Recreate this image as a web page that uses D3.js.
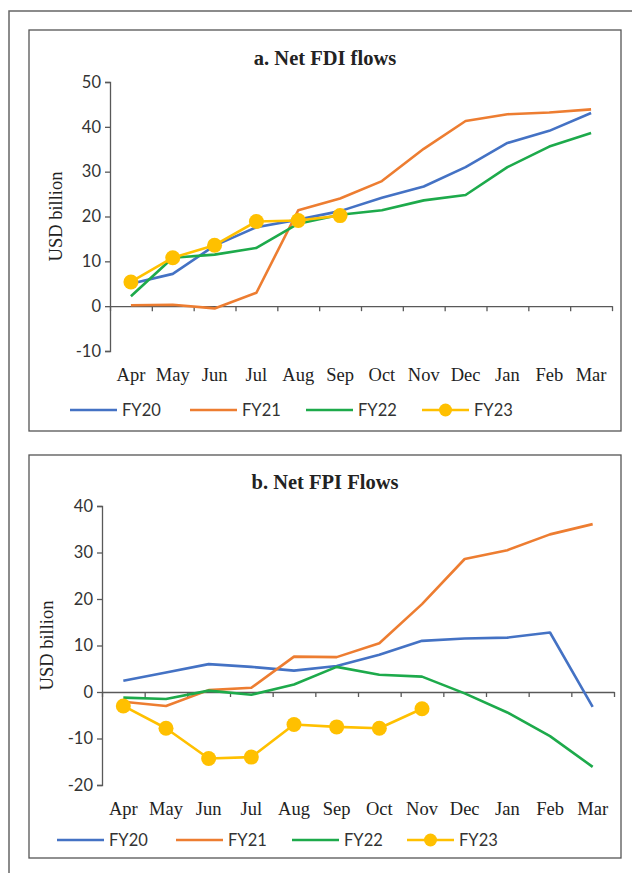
<!DOCTYPE html>
<html>
<head>
<meta charset="utf-8">
<script src="https://cdn.jsdelivr.net/npm/d3@7"></script>
<style>
  body { margin: 0; background: #fff; }
</style>
</head>
<body>
<div id="chart"></div>
<script>
var months = ["Apr", "May", "Jun", "Jul", "Aug", "Sep", "Oct", "Nov", "Dec", "Jan", "Feb", "Mar"]
var seriesNames = ["FY20", "FY21", "FY22", "FY23"]
var colors = ["#4472C4", "#ED7D31", "#1DAA4B", "#FFC000"]

// a. Net FDI flows (USD billion)
var fdiFY20 = [5.0, 7.2, 13.5, 17.6, 19.3, 21.2, 24.2, 26.7, 31.0, 36.4, 39.1, 43.1]
var fdiFY21 = [0.2, 0.3, -0.5, 3.0, 21.4, 24.0, 27.9, 35.1, 41.3, 42.8, 43.2, 43.9]
var fdiFY22 = [2.2, 10.8, 11.5, 13.0, 18.4, 20.4, 21.4, 23.6, 24.8, 31.0, 35.6, 38.6]
var fdiFY23 = [5.4, 10.8, 13.6, 18.9, 19.1, 20.2]
var fdiTicks = [-10, 0, 10, 20, 30, 40, 50]

// b. Net FPI flows (USD billion)
var fpiFY20 = [2.4, 4.2, 6.0, 5.4, 4.6, 5.6, 8.0, 11.0, 11.5, 11.7, 12.8, -3.2]
var fpiFY21 = [-2.1, -3.0, 0.4, 0.9, 7.6, 7.5, 10.5, 18.9, 28.6, 30.5, 33.9, 36.1]
var fpiFY22 = [-1.2, -1.5, 0.3, -0.6, 1.6, 5.4, 3.7, 3.3, -0.3, -4.4, -9.5, -16.1]
var fpiFY23 = [-3.0, -7.8, -14.3, -14.0, -7.0, -7.5, -7.8, -3.6]
var fpiTicks = [-20, -10, 0, 10, 20, 30, 40]

var W = 632, H = 873
var serif = "'Liberation Serif', 'DejaVu Serif', serif"
var sans = "Lato, 'Noto Sans', sans-serif"
var axisColor = "#595959"

var svg = d3.select("#chart").append("svg")
    .attr("width", W)
    .attr("height", H)

// outer page frame (only left and top edges visible)
svg.append("path")
    .attr("d", `M9,${H} V11 H${W}`)
    .attr("fill", "none")
    .attr("stroke", "#666")
    .attr("stroke-width", 1.5)

function panel(cfg) {
    var g = svg.append("g")

    g.append("rect")
        .attr("x", cfg.box[0]).attr("y", cfg.box[1])
        .attr("width", cfg.box[2]).attr("height", cfg.box[3])
        .attr("fill", "#fff")
        .attr("stroke", "#555")
        .attr("stroke-width", 1.3)

    g.append("text")
        .attr("x", cfg.box[0] + cfg.box[2] / 2)
        .attr("y", cfg.titleY)
        .attr("text-anchor", "middle")
        .style("font-family", serif)
        .style("font-weight", "bold")
        .style("font-size", "20.5px")
        .style("fill", "#222")
        .text(cfg.title)

    var x = d3.scaleBand()
        .domain(months)
        .range([cfg.left, cfg.right])

    var xEdges = d3.scaleLinear()
        .domain([0, months.length])
        .range([cfg.left, cfg.right])

    var y = d3.scaleLinear()
        .domain(d3.extent(cfg.ticks))
        .range([cfg.bottom, cfg.top])

    // y axis
    var yAxis = g.append("g")
        .attr("transform", `translate(${cfg.left},0)`)
        .call(d3.axisLeft(y).tickValues(cfg.ticks).tickFormat(d => String(d))
            .tickSize(5).tickSizeOuter(5).tickPadding(4))
    yAxis.select(".domain").attr("stroke", axisColor).attr("stroke-width", 1.3)
    yAxis.selectAll(".tick line").attr("stroke", axisColor).attr("stroke-width", 1.3)
    yAxis.selectAll(".tick text")
        .style("font-family", sans)
        .style("font-size", "16.5px")
        .style("fill", "#333")

    // x axis at zero, ticks between categories
    var xAxis = g.append("g")
        .attr("transform", `translate(0,${y(0)})`)
        .call(d3.axisBottom(xEdges).tickValues(d3.range(months.length + 1)).tickFormat("").tickSize(5).tickSizeOuter(0))
    xAxis.select(".domain").attr("stroke", axisColor).attr("stroke-width", 1.3)
    xAxis.selectAll(".tick line").attr("stroke", axisColor).attr("stroke-width", 1.3)

    // month labels below plot
    g.selectAll(".mlab")
        .data(months)
        .enter()
        .append("text")
        .attr("x", d => x(d) + x.bandwidth() / 2)
        .attr("y", cfg.labelY)
        .attr("text-anchor", "middle")
        .style("font-family", serif)
        .style("font-size", "18.5px")
        .style("fill", "#222")
        .text(d => d)

    g.append("text")
        .attr("transform", `translate(${cfg.yTitleX},${(cfg.top + cfg.bottom) / 2}) rotate(-90)`)
        .attr("text-anchor", "middle")
        .style("font-family", serif)
        .style("font-size", "18.5px")
        .style("fill", "#222")
        .text("USD billion")

    var line = d3.line()
        .x((d, i) => x(months[i]) + x.bandwidth() / 2)
        .y(d => y(d))

    cfg.series.forEach((vals, s) => {
        g.append("path")
            .datum(vals)
            .attr("d", line)
            .attr("fill", "none")
            .attr("stroke", colors[s])
            .attr("stroke-width", 2.6)
            .attr("stroke-linejoin", "round")
        if (s === 3) {
            g.selectAll(".dot")
                .data(vals)
                .enter()
                .append("circle")
                .attr("cx", (d, i) => x(months[i]) + x.bandwidth() / 2)
                .attr("cy", d => y(d))
                .attr("r", 7.5)
                .attr("fill", colors[s])
        }
    })

    // legend
    var leg = g.selectAll(".leg")
        .data(seriesNames)
        .enter()
        .append("g")
        .attr("transform", (d, i) => `translate(${cfg.legendX[i]},${cfg.legendY})`)
    leg.append("line")
        .attr("x1", 0).attr("x2", 47)
        .attr("stroke", (d, i) => colors[i])
        .attr("stroke-width", 2.6)
    leg.filter((d, i) => i === 3)
        .append("circle")
        .attr("cx", 23.5).attr("r", 6.5)
        .attr("fill", colors[3])
    leg.append("text")
        .attr("x", 52)
        .attr("dy", "0.35em")
        .style("font-family", sans)
        .style("font-size", "16.5px")
        .style("fill", "#333")
        .text(d => d)
}

panel({
    box: [29, 30, 592, 401],
    title: "a. Net FDI flows",
    titleY: 65,
    left: 110, right: 612, top: 82, bottom: 351,
    ticks: fdiTicks,
    labelY: 381,
    yTitleX: 62,
    series: [fdiFY20, fdiFY21, fdiFY22, fdiFY23],
    legendY: 410,
    legendX: [70, 190, 306, 422]
})

panel({
    box: [29, 455, 592, 403],
    title: "b. Net FPI Flows",
    titleY: 489,
    left: 102, right: 614, top: 506, bottom: 785,
    ticks: fpiTicks,
    labelY: 815,
    yTitleX: 53,
    series: [fpiFY20, fpiFY21, fpiFY22, fpiFY23],
    legendY: 840,
    legendX: [57, 176, 292, 407]
})
</script>
</body>
</html>
